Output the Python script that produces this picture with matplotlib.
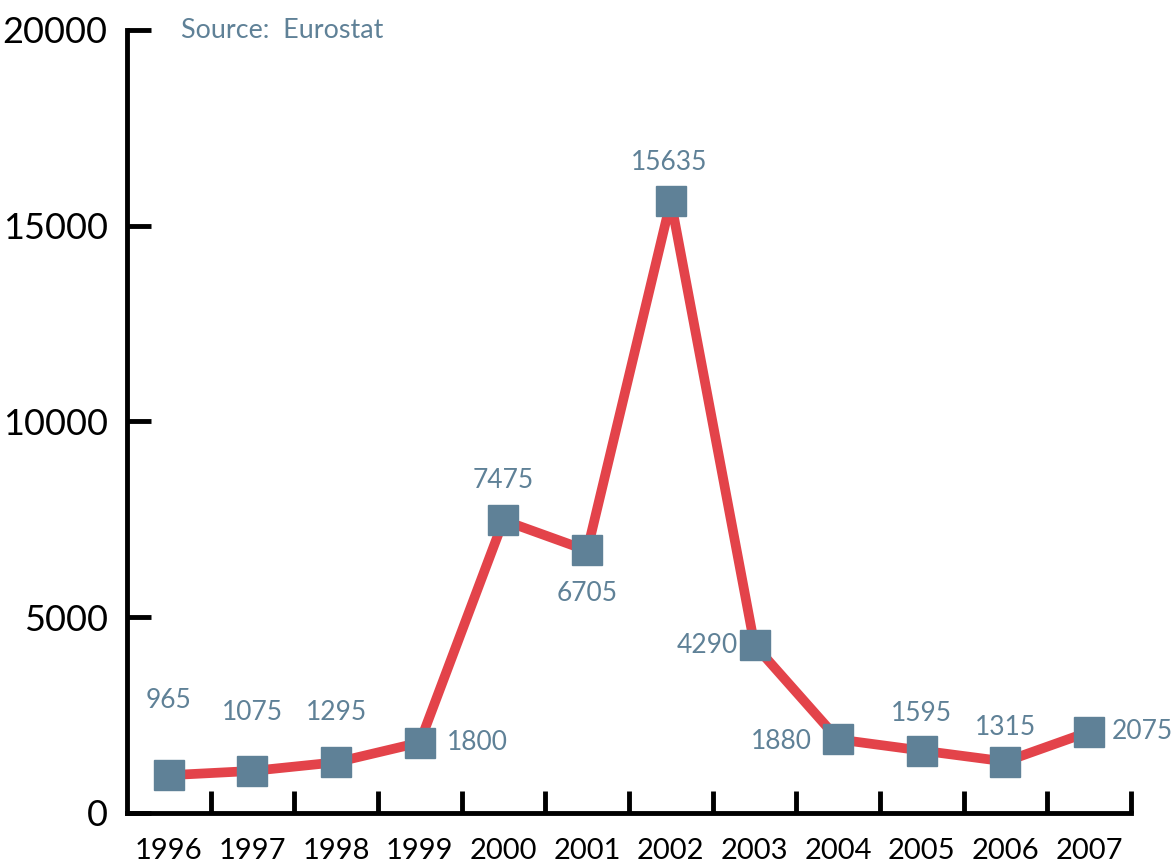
import matplotlib
matplotlib.use("Agg")
import matplotlib.pyplot as plt

years = ["1996", "1997", "1998", "1999", "2000", "2001", "2002", "2003", "2004", "2005", "2006", "2007"]
values = [965, 1075, 1295, 1800, 7475, 6705, 15635, 4290, 1880, 1595, 1315, 2075]
y_ticks = [0, 5000, 10000, 15000, 20000]

# label offsets (pixels, label centre relative to point)
label_offsets = [(0, 75), (0, 58), (0, 50), (58, 0), (0, 40), (0, -43),
                 (-2, 38), (-47, 0), (-57, -2), (0, 37), (0, 34), (53, 0)]

LINE = "#E3434A"
MARK = "#5F8197"
FONT = "Lato"

plt.rcParams["font.family"] = [FONT, "DejaVu Sans"]

fig = plt.figure(figsize=(11.76, 8.61), dpi=100)
ax = fig.add_axes([127 / 1176, 1 - 813 / 861, (1131 - 127) / 1176, (813 - 30) / 861])

x = list(range(len(years)))
ax.plot(x, values, color=LINE, lw=7, zorder=2, solid_joinstyle="round")
ax.plot(x, values, ls="none", marker="s", ms=22, color=MARK, zorder=3)

for xi, v, (dx, dy) in zip(x, values, label_offsets):
    ax.annotate(str(v), (xi, v), xytext=(dx, dy), textcoords="offset pixels",
                ha="center", va="center", fontsize=19, color=MARK)

ax.set_xlim(-0.5, 11.5)
ax.set_ylim(0, 20000)
ax.set_yticks(y_ticks)
ax.set_yticklabels([str(t) for t in y_ticks], fontsize=26)
ax.set_xticks([i + 0.5 for i in range(len(years))])
ax.set_xticklabels([])
ax.set_xticks(x, minor=True)
ax.set_xticklabels(years, minor=True, fontsize=21)
ax.tick_params(axis="x", which="major", direction="in", length=16, width=3.5)
ax.tick_params(axis="x", which="minor", length=0, pad=18)
ax.tick_params(axis="y", direction="in", length=17, width=3.5, pad=14)
for s in ["top", "right"]:
    ax.spines[s].set_visible(False)
for s in ["left", "bottom"]:
    ax.spines[s].set_linewidth(3.5)

fig.text(181 / 1176, 1 - 30 / 861, "Source:  Eurostat", fontsize=19.4, color=MARK,
         ha="left", va="center")

fig.savefig("out.png", dpi=100)
